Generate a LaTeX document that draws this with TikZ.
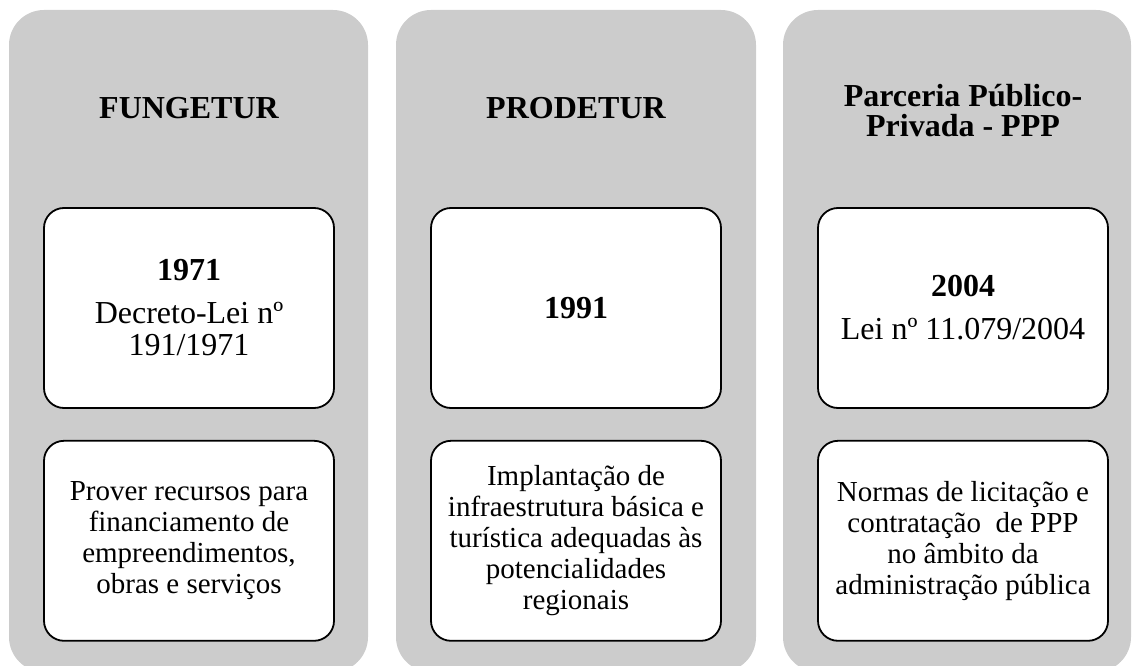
\documentclass[tikz,border=0pt]{standalone}
\usepackage{fontspec}
\setmainfont{Liberation Serif}
\usetikzlibrary{positioning}
\definecolor{panelgray}{RGB}{204,204,204}

\begin{document}
\begin{tikzpicture}[
    x=1pt, y=-1pt,
    node distance=31pt,
    panel/.style={rectangle, fill=panelgray, rounded corners=35pt, minimum height=662pt, inner sep=0pt},
    title/.style={font=\fontsize{32}{30}\selectfont\bfseries, align=center},
    box/.style={rectangle, draw, line width=1.8pt, fill=white, rounded corners=20pt, minimum width=290pt, minimum height=200pt, inner sep=0pt, align=center},
    yearbox/.style={box, font=\fontsize{32}{32}\selectfont},
    textbox/.style={box, font=\fontsize{29}{31}\selectfont}
]
    \useasboundingbox (0,0) rectangle (1132,666);

    \node[panel, minimum width=359pt] (fungetur) at (188.5,341) {};
    \node[panel, minimum width=360pt] (prodetur) at (576,341) {};
    \node[panel, minimum width=348pt] (ppp) at (957,341) {};

    \node[title] (fungeturtitle) at (189,108) {FUNGETUR};
    \node[title] (prodeturtitle) at (576,108) {PRODETUR};
    \node[title] (ppptitle) at (963,111) {Parceria Público-\\Privada - PPP};

    \node[yearbox] (fungeturyear) at (189,308) {\textbf{1971}\\[11pt]Decreto-Lei nº\\191/1971};
    \node[yearbox] (prodeturyear) at (576,308) {\textbf{1991}};
    \node[yearbox] (pppyear) at (963,308) {\textbf{2004}\\[11pt]Lei nº 11.079/2004};

    \node[textbox, below=of fungeturyear] (fungeturgoal) {Prover recursos para\\financiamento de\\empreendimentos,\\obras e serviços};
    \node[textbox, below=of prodeturyear] (prodeturgoal) {Implantação de\\infraestrutura básica e\\turística adequadas às\\potencialidades\\regionais};
    \node[textbox, below=of pppyear] (pppgoal) {Normas de licitação e\\contratação\ \ de PPP\\no âmbito da\\administração pública};
\end{tikzpicture}
\end{document}
